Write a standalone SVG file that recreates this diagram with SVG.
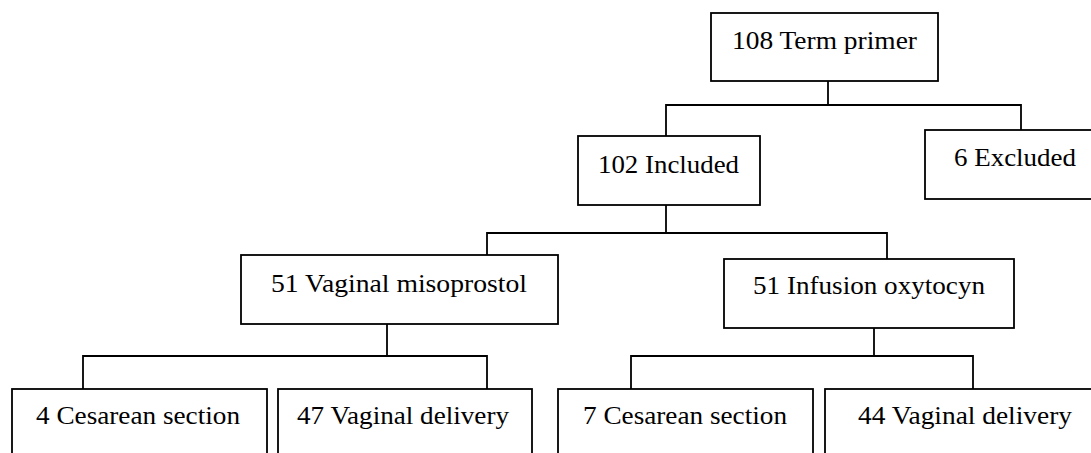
<svg xmlns="http://www.w3.org/2000/svg" width="1091" height="453" viewBox="0 0 1091 453">
<style>
.box{fill:#fff;stroke:#000;stroke-width:1.8}
.ln{fill:none;stroke:#000;stroke-width:1.8}
.t{font-size:26px;fill:#000;text-anchor:middle}
</style>
<rect width="1091" height="453" fill="#fff"/>
<g id="connectors">
<polyline class="ln" points="828,81 828,105"/>
<polyline class="ln" points="666,136 666,105 1021,105 1021,130"/>
<polyline class="ln" points="666,205 666,233"/>
<polyline class="ln" points="487,255 487,233 887,233 887,259"/>
<polyline class="ln" points="387,324 387,356"/>
<polyline class="ln" points="83,389 83,356 487,356 487,389"/>
<polyline class="ln" points="874,328 874,356"/>
<polyline class="ln" points="631,389 631,356 973,356 973,389"/>
</g>
<g font-family="'Liberation Serif', 'Times New Roman', 'DejaVu Serif', Times, serif">
<g id="n-term">
<rect class="box" x="711" y="13" width="227" height="68"/>
<text class="t" x="824.5" y="49" textLength="185" lengthAdjust="spacingAndGlyphs">108 Term primer</text>
</g>
<g id="n-included">
<rect class="box" x="578" y="136" width="182" height="69"/>
<text class="t" x="668.5" y="173" textLength="141" lengthAdjust="spacingAndGlyphs">102 Included</text>
</g>
<g id="n-excluded">
<rect class="box" x="925" y="130" width="180" height="69"/>
<text class="t" x="1015" y="166" textLength="122" lengthAdjust="spacingAndGlyphs">6 Excluded</text>
</g>
<g id="n-miso">
<rect class="box" x="241" y="255" width="317" height="69"/>
<text class="t" x="399" y="292" textLength="256" lengthAdjust="spacingAndGlyphs">51 Vaginal misoprostol</text>
</g>
<g id="n-oxy">
<rect class="box" x="724" y="259" width="290" height="69"/>
<text class="t" x="869" y="294" textLength="232" lengthAdjust="spacingAndGlyphs">51 Infusion oxytocyn</text>
</g>
<g id="n-ces1">
<rect class="box" x="12" y="389" width="255" height="80"/>
<text class="t" x="138" y="424" textLength="204" lengthAdjust="spacingAndGlyphs">4 Cesarean section</text>
</g>
<g id="n-vag1">
<rect class="box" x="278" y="389" width="254" height="80"/>
<text class="t" x="403" y="424" textLength="212" lengthAdjust="spacingAndGlyphs">47 Vaginal delivery</text>
</g>
<g id="n-ces2">
<rect class="box" x="558" y="389" width="255" height="80"/>
<text class="t" x="685" y="424" textLength="204" lengthAdjust="spacingAndGlyphs">7 Cesarean section</text>
</g>
<g id="n-vag2">
<rect class="box" x="825" y="389" width="280" height="80"/>
<text class="t" x="965" y="424" textLength="214" lengthAdjust="spacingAndGlyphs">44 Vaginal delivery</text>
</g>
</g>
</svg>
